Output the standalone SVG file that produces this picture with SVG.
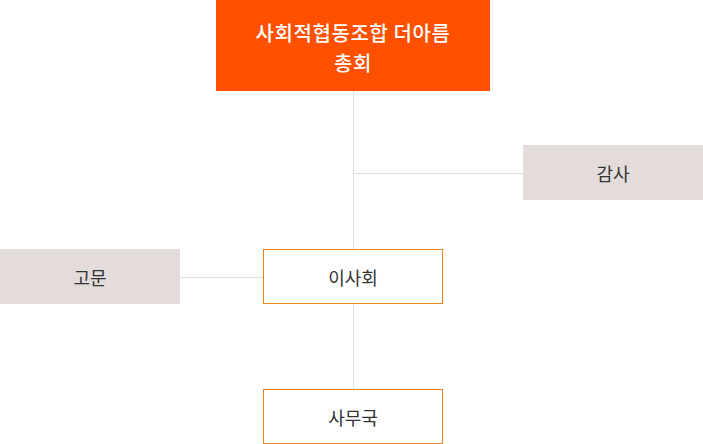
<svg xmlns="http://www.w3.org/2000/svg" width="703" height="444" viewBox="0 0 703 444">
<style>
text{font-family:"Noto Sans CJK KR","Noto Sans",sans-serif;text-anchor:middle;dominant-baseline:central}
.t{fill:#ffffff;font-size:20px;font-weight:500;letter-spacing:0.6px}
.l{fill:#333333;font-size:18px}
.g{fill:#e4dcda}
.o{fill:#ffffff;stroke:#f08020;stroke-width:1}
.c{stroke:#dddddd;stroke-width:1;fill:none}
</style>
<rect width="703" height="444" fill="#ffffff"/>
<g id="connectors">
<line class="c" x1="353.5" y1="91" x2="353.5" y2="389"/>
<line class="c" x1="353.5" y1="173.5" x2="523" y2="173.5"/>
<line class="c" x1="180" y1="277.5" x2="263" y2="277.5"/>
</g>
<g id="general">
<rect x="216" y="0" width="274" height="91" fill="#ff5000"/>
<text class="t"><tspan x="353" y="32">사회적협동조합 더아름</tspan><tspan x="353" y="61.5">총회</tspan></text>
</g>
<g id="audit">
<rect class="g" x="523" y="145" width="180" height="55"/>
<text class="l" x="613" y="172.5">감사</text>
</g>
<g id="advisor">
<rect class="g" x="0" y="249" width="180" height="55"/>
<text class="l" x="90" y="276.5">고문</text>
</g>
<g id="board">
<rect class="o" x="263.5" y="249.5" width="179" height="54"/>
<text class="l" x="353" y="276.5">이사회</text>
</g>
<g id="office">
<rect class="o" x="263.5" y="389.5" width="179" height="54"/>
<text class="l" x="353" y="416.5">사무국</text>
</g>
</svg>
